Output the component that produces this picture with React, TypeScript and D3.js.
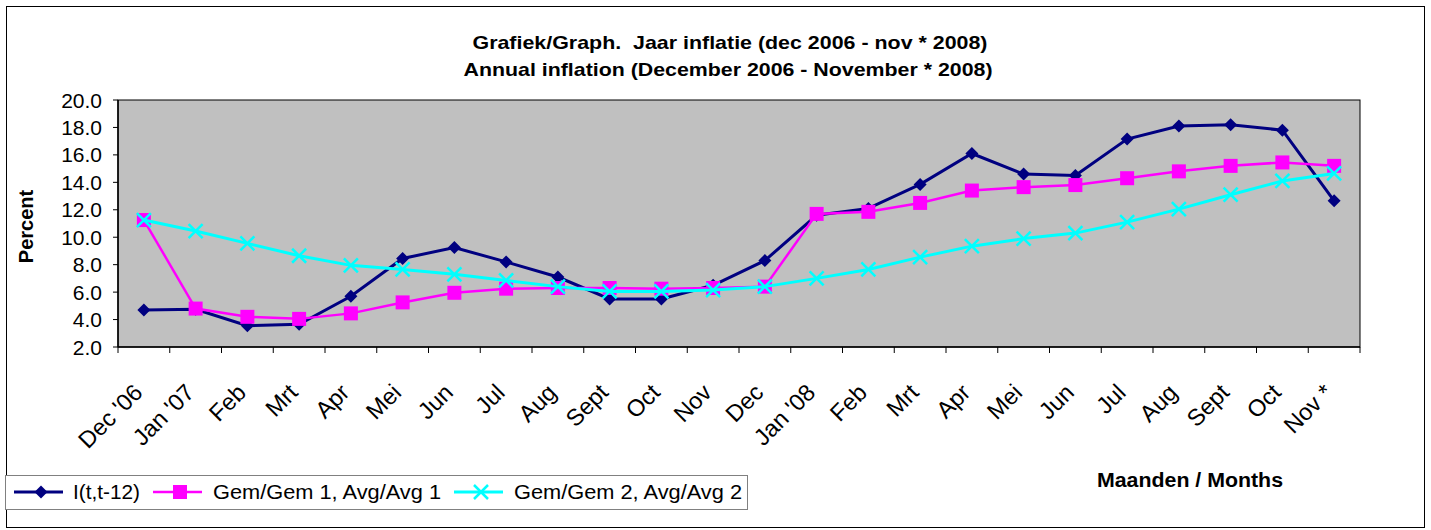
import React from 'react';
import * as d3 from 'd3';

const months = ["Dec '06", "Jan '07", 'Feb', 'Mrt', 'Apr', 'Mei', 'Jun', 'Jul', 'Aug', 'Sept', 'Oct', 'Nov',
    'Dec', "Jan '08", 'Feb', 'Mrt', 'Apr', 'Mei', 'Jun', 'Jul', 'Aug', 'Sept', 'Oct', 'Nov *'];
const monthKeys = months.map((m, i) => `${i}-${m}`);

const inflation = [4.7, 4.75, 3.55, 3.65, 5.7, 8.45, 9.25, 8.2, 7.1, 5.5, 5.5, 6.5,
    8.3, 11.6, 12.1, 13.85, 16.1, 14.6, 14.5, 17.15, 18.1, 18.2, 17.8, 12.65];
const avg1 = [11.25, 4.8, 4.2, 4.05, 4.45, 5.25, 5.95, 6.25, 6.3, 6.3, 6.25, 6.3,
    6.4, 11.7, 11.85, 12.5, 13.4, 13.65, 13.8, 14.3, 14.8, 15.2, 15.45, 15.2];
const avg2 = [11.25, 10.45, 9.55, 8.65, 7.95, 7.65, 7.3, 6.85, 6.4, 6.05, 6.05, 6.15,
    6.4, 7.0, 7.65, 8.55, 9.35, 9.9, 10.3, 11.1, 12.05, 13.1, 14.1, 14.65];
const yTicks = [2, 4, 6, 8, 10, 12, 14, 16, 18, 20];

const series = [
    { name: 'I(t,t-12)', values: inflation, color: '#000080', marker: 'diamond', width: 3 },
    { name: 'Gem/Gem 1, Avg/Avg 1', values: avg1, color: '#ff00ff', marker: 'square', width: 2.5 },
    { name: 'Gem/Gem 2, Avg/Avg 2', values: avg2, color: '#00ffff', marker: 'cross', width: 3 },
];

const W = 1431, H = 530;
const plot = { left: 118, top: 100, right: 1360, bottom: 347 };
const font = 'Liberation Sans, Arial, sans-serif';

const Marker = ({ type, x, y, color }: { type: string, x: number, y: number, color: string }) => {
    if (type === 'diamond') {
        const r = 6.5;
        return <path d={`M${x},${y - r}L${x + r},${y}L${x},${y + r}L${x - r},${y}Z`} fill={color} />;
    }
    if (type === 'square') {
        return <rect x={x - 7} y={y - 7} width={14} height={14} fill={color} />;
    }
    const r = 7;
    return <path d={`M${x - r},${y - r}L${x + r},${y + r}M${x - r},${y + r}L${x + r},${y - r}`} stroke={color} strokeWidth={2.5} fill="none" />;
};

export default function App() {
    const x = d3.scaleBand().domain(monthKeys).range([plot.left, plot.right]);
    const y = d3.scaleLinear().domain([2, 20]).range([plot.bottom, plot.top]);
    const cx = (i: number) => (x(monthKeys[i]) as number) + x.bandwidth() / 2;
    const line = d3.line<number>().x((_, i) => cx(i)).y(d => y(d));
    const boundaries = d3.range(monthKeys.length + 1).map(i => plot.left + i * x.bandwidth());

    // legend swatch start, text start, text width
    const legendItems = [
        { s: series[0], lx: 14, tx: 73, tw: 67 },
        { s: series[1], lx: 153, tx: 213, tw: 228 },
        { s: series[2], lx: 454, tx: 514, tw: 228 },
    ];

    return (
        <svg width={W} height={H} style={{ position: 'absolute', left: 0, top: 0, background: '#fff' }} fontFamily={font}>
            <rect x={6.5} y={6.5} width={1418} height={521} fill="#fff" stroke="#000" strokeWidth={1} />
            <text x={730} y={49} textAnchor="middle" fontSize={19} fontWeight="bold" style={{ whiteSpace: 'pre' }}
                textLength={515} lengthAdjust="spacingAndGlyphs">Grafiek/Graph.  Jaar inflatie (dec 2006 - nov * 2008)</text>
            <text x={728} y={76} textAnchor="middle" fontSize={19} fontWeight="bold"
                textLength={529} lengthAdjust="spacingAndGlyphs">Annual inflation (December 2006 - November * 2008)</text>

            <rect x={plot.left} y={plot.top} width={plot.right - plot.left} height={plot.bottom - plot.top} fill="#c0c0c0" stroke="#000" strokeWidth={1} />

            {yTicks.map(t => (
                <g key={t}>
                    <line x1={plot.left - 5} x2={plot.left} y1={y(t)} y2={y(t)} stroke="#000" />
                    <text x={102} y={y(t)} dy="0.36em" textAnchor="end" fontSize={21}>{t.toFixed(1)}</text>
                </g>
            ))}
            <line x1={plot.left} x2={plot.left} y1={plot.top} y2={plot.bottom} stroke="#000" strokeWidth={1.5} />
            <line x1={plot.left} x2={plot.right} y1={plot.bottom} y2={plot.bottom} stroke="#000" strokeWidth={1.5} />
            {boundaries.map((b, i) => (
                <line key={i} x1={b} x2={b} y1={plot.bottom} y2={plot.bottom + 6} stroke="#000" />
            ))}
            {months.map((m, i) => (
                <text key={i} transform={`translate(${cx(i)},${plot.bottom + 47}) rotate(-45)`} textAnchor="end" fontSize={23.5}>{m}</text>
            ))}

            <text transform={`translate(33,${(plot.top + plot.bottom) / 2 + 3}) rotate(-90)`} textAnchor="middle" fontSize={20} fontWeight="bold">Percent</text>
            <text x={1190} y={487} textAnchor="middle" fontSize={20} fontWeight="bold"
                textLength={186} lengthAdjust="spacingAndGlyphs">Maanden / Months</text>

            {series.map(s => (
                <g key={s.name}>
                    <path d={line(s.values) as string} fill="none" stroke={s.color} strokeWidth={s.width} />
                    {s.values.map((v, i) => <Marker key={i} type={s.marker} x={cx(i)} y={y(v)} color={s.color} />)}
                </g>
            ))}

            <rect x={5.5} y={475.5} width={742} height={34} fill="#fff" stroke="#808080" strokeWidth={1} />
            {legendItems.map(({ s, lx, tx, tw }) => (
                <g key={s.name}>
                    <line x1={lx} x2={lx + 49} y1={492} y2={492} stroke={s.color} strokeWidth={s.width} />
                    <Marker type={s.marker} x={lx + 27} y={492} color={s.color} />
                    <text x={tx} y={492} dy="0.36em" fontSize={20.5} textLength={tw} lengthAdjust="spacingAndGlyphs">{s.name}</text>
                </g>
            ))}
        </svg>
    );
}
